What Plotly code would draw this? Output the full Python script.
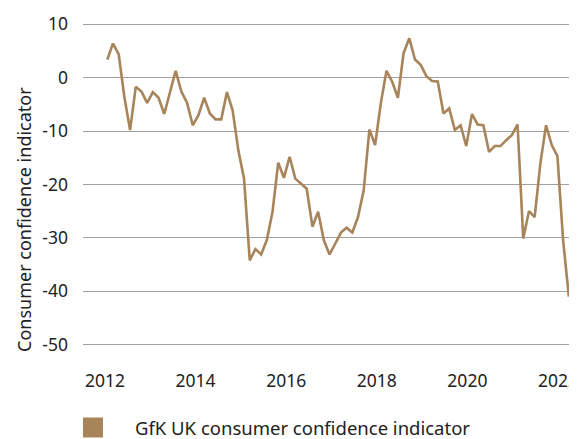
import plotly.graph_objects as go

# GfK UK consumer confidence indicator
values = [3.4, 6.4, 4.4, -3.6, -9.8, -1.7, -2.6, -4.7, -2.7, -3.75,
          -6.8, -2.6, 1.3, -2.6, -4.7, -8.9, -7.0, -3.75, -6.7, -7.8,
          -7.8, -2.7, -6.1, -13.6, -18.9, -34.2, -32.1, -33.1, -30.4, -25.1,
          -15.9, -18.75, -14.8, -18.9, -19.8, -20.8, -27.9, -25.1, -30.4, -33.1,
          -31.1, -29.0, -28.1, -29.0, -26.1, -21.1, -9.7, -12.6, -4.8, 1.3,
          -0.75, -3.75, 4.6, 7.4, 3.4, 2.4, 0.3, -0.6, -0.7, -6.7,
          -5.75, -9.8, -8.9, -12.8, -6.8, -8.75, -8.9, -13.9, -12.8, -12.8,
          -11.7, -10.75, -8.75, -30.1, -25.0, -26.1, -16.1, -8.9, -12.6, -14.7,
          -30.5, -41.0]
start_year = 2012.05
step_years = 0.1258
years = [start_year + i * step_years for i in range(len(values))]

x_ticks = [2012, 2014, 2016, 2018, 2020, 2022]
y_ticks = [10, 0, -10, -20, -30, -40, -50]
series_name = "GfK UK consumer confidence indicator"
y_title = "Consumer confidence indicator"

line_color = "#a8845a"
font_family = "Noto Sans, Open Sans, sans-serif"

# the page body adds an 8px offset, so the figure is sized to fit the window
W, H = 569, 431
L, R, T, B = 75, 0, 10.65, 88.65
PW, PH = W - L - R, H - T - B

fig = go.Figure()
fig.add_trace(go.Scatter(x=years, y=values, mode="lines",
                         line=dict(color=line_color, width=2.6),
                         name=series_name, showlegend=False))

fig.update_layout(
    width=W, height=H,
    margin=dict(l=L, r=R, t=T, b=B, pad=0),
    paper_bgcolor="white", plot_bgcolor="white",
    font=dict(family=font_family, size=17, color="#222222"),
    showlegend=False,
)
fig.update_xaxes(range=[2011.514, 2022.42], tickvals=x_ticks,
                 ticktext=[str(t) for t in x_ticks],
                 showgrid=False, zeroline=False, showline=False,
                 ticks="", ticklabelstandoff=18, automargin=False,
                 ticklabeloverflow="allow",
                 tickfont=dict(size=17.5))
fig.update_yaxes(range=[-51, 11], tickvals=y_ticks,
                 ticktext=[str(t) for t in y_ticks],
                 showgrid=True, gridcolor="#a0a0a0", gridwidth=1.2,
                 zeroline=False, showline=False, ticks="",
                 ticklabelstandoff=14, automargin=False,
                 tickfont=dict(size=17.5))

fig.add_annotation(text=y_title, textangle=-90, xref="paper", yref="paper",
                   x=(16 - L) / PW, xanchor="center",
                   y=(H - B - 212) / PH, yanchor="middle",
                   showarrow=False, font=dict(size=18, family=font_family, color="#222222"))

# legend
fig.add_shape(type="rect", xref="paper", yref="paper",
              x0=0.0, x1=20 / PW,
              y0=(H - B - 410) / PH, y1=(H - B - 430) / PH,
              fillcolor=line_color, line=dict(width=0))
fig.add_annotation(text=series_name, xref="paper", yref="paper",
                   x=(125 - L) / PW, xanchor="left",
                   y=(H - B - 420.5) / PH, yanchor="middle",
                   showarrow=False, font=dict(size=18.5, family=font_family, color="#222222"))

fig.write_html("out.html")
